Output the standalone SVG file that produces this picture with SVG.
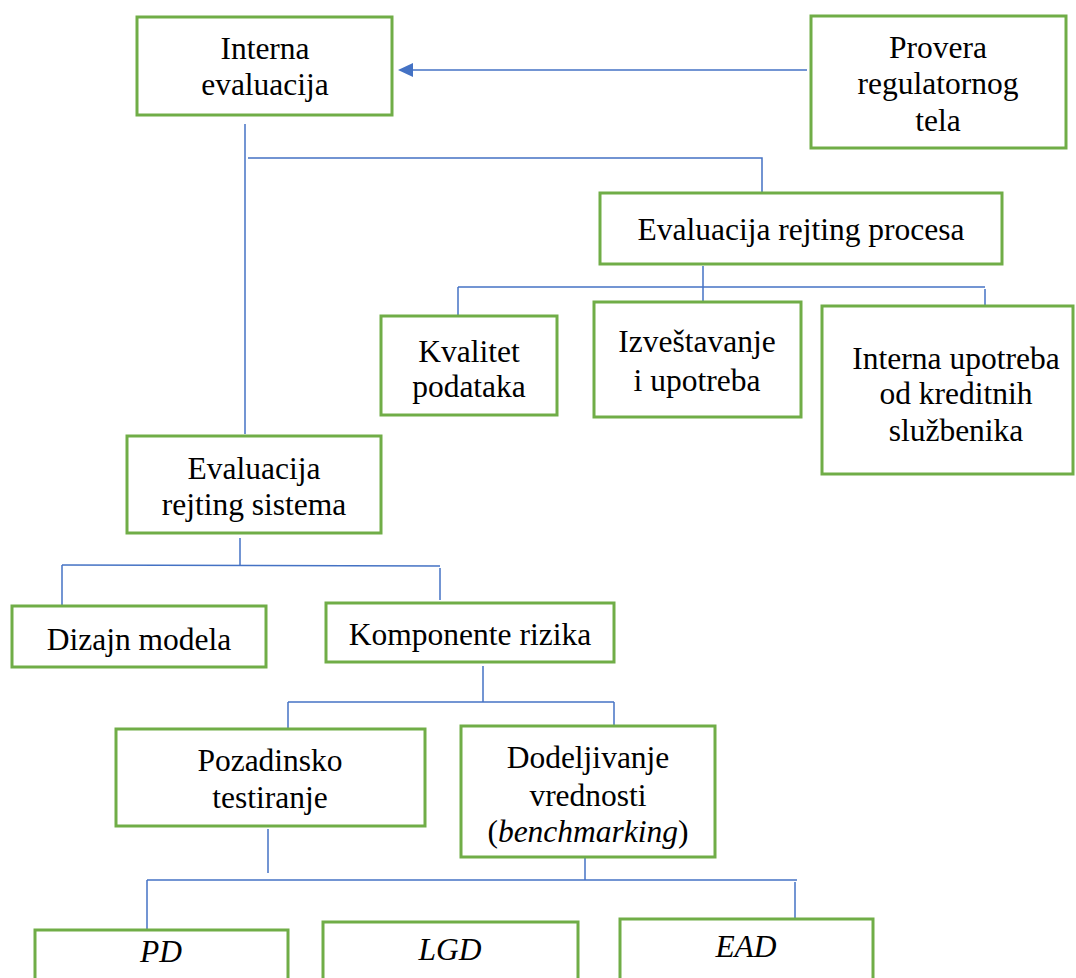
<svg xmlns="http://www.w3.org/2000/svg" width="1076" height="978" viewBox="0 0 1076 978">
<style>
.box{fill:#fff;stroke:#70AD47;stroke-width:3}
.t{font-family:'Liberation Serif','Tinos','DejaVu Serif',serif;font-size:31.5px;fill:#000;text-anchor:middle}
.i{font-style:italic}
.c{fill:none;stroke:#4472C4;stroke-width:1.5}
</style>
<defs>
<marker id="ah" viewBox="0 0 10 10" refX="0" refY="5" markerWidth="15" markerHeight="14" markerUnits="userSpaceOnUse" orient="auto-start-reverse" preserveAspectRatio="none">
<path d="M0,0 L10,5 L0,10 z" fill="#4472C4"/>
</marker>
</defs>
<rect width="1076" height="978" fill="#fff"/>
<g id="connectors">
<line class="c" x1="807" y1="70" x2="413" y2="70" marker-end="url(#ah)"/>
<line class="c" x1="245" y1="124" x2="245" y2="434"/>
<polyline class="c" points="248,158 762,158 762,193"/>
<line class="c" x1="703" y1="266" x2="703" y2="302"/>
<line class="c" x1="458" y1="287" x2="985" y2="287"/>
<line class="c" x1="458" y1="287" x2="458" y2="316"/>
<line class="c" x1="985" y1="289" x2="985" y2="306"/>
<line class="c" x1="240" y1="538" x2="240" y2="565"/>
<line class="c" x1="62" y1="565" x2="440" y2="566"/>
<line class="c" x1="62" y1="565" x2="62" y2="606"/>
<line class="c" x1="440" y1="568" x2="440" y2="600"/>
<line class="c" x1="483" y1="666" x2="483" y2="702"/>
<line class="c" x1="288" y1="702" x2="614" y2="702"/>
<line class="c" x1="288" y1="702" x2="288" y2="729"/>
<line class="c" x1="614" y1="702" x2="614" y2="726"/>
<line class="c" x1="268" y1="829" x2="268" y2="873"/>
<line class="c" x1="585" y1="858" x2="585" y2="880"/>
<line class="c" x1="147" y1="880" x2="797" y2="880"/>
<line class="c" x1="147" y1="880" x2="147" y2="930"/>
<line class="c" x1="795" y1="882" x2="795" y2="918"/>
</g>
<g id="n-interna-evaluacija">
<rect class="box" x="137" y="17" width="255" height="98"/>
<text class="t" x="265" y="59">Interna</text>
<text class="t" x="265" y="95">evaluacija</text>
</g>
<g id="n-provera">
<rect class="box" x="811" y="16" width="255" height="132"/>
<text class="t" x="938" y="58">Provera</text>
<text class="t" x="938" y="94">regulatornog</text>
<text class="t" x="938" y="131">tela</text>
</g>
<g id="n-eval-procesa">
<rect class="box" x="600" y="193" width="402" height="71"/>
<text class="t" x="801" y="240">Evaluacija rejting procesa</text>
</g>
<g id="n-kvalitet">
<rect class="box" x="381" y="316" width="176" height="99"/>
<text class="t" x="469" y="362">Kvalitet</text>
<text class="t" x="469" y="397">podataka</text>
</g>
<g id="n-izvestavanje">
<rect class="box" x="594" y="302" width="207" height="115"/>
<text class="t" x="697" y="352">Izveštavanje</text>
<text class="t" x="697" y="391">i upotreba</text>
</g>
<g id="n-interna-upotreba">
<rect class="box" x="822" y="306" width="251" height="168"/>
<text class="t" x="956" y="369">Interna upotreba</text>
<text class="t" x="956" y="404">od kreditnih</text>
<text class="t" x="956" y="441">službenika</text>
</g>
<g id="n-eval-sistema">
<rect class="box" x="127" y="436" width="254" height="97"/>
<text class="t" x="254" y="479">Evaluacija</text>
<text class="t" x="254" y="515">rejting sistema</text>
</g>
<g id="n-dizajn">
<rect class="box" x="12" y="606" width="254" height="61"/>
<text class="t" x="139" y="650">Dizajn modela</text>
</g>
<g id="n-komponente">
<rect class="box" x="326" y="603" width="288" height="59"/>
<text class="t" x="470" y="645">Komponente rizika</text>
</g>
<g id="n-pozadinsko">
<rect class="box" x="116" y="729" width="309" height="97"/>
<text class="t" x="270" y="771">Pozadinsko</text>
<text class="t" x="270" y="808">testiranje</text>
</g>
<g id="n-dodeljivanje">
<rect class="box" x="461" y="726" width="254" height="131"/>
<text class="t" x="588" y="768">Dodeljivanje</text>
<text class="t" x="588" y="806">vrednosti</text>
<text class="t" x="588" y="842">(<tspan class="i">benchmarking</tspan>)</text>
</g>
<g id="n-pd">
<rect class="box" x="35" y="930" width="253" height="60"/>
<text class="t i" x="161" y="962">PD</text>
</g>
<g id="n-lgd">
<rect class="box" x="323" y="922" width="255" height="68"/>
<text class="t i" x="450" y="960">LGD</text>
</g>
<g id="n-ead">
<rect class="box" x="620" y="919" width="253" height="71"/>
<text class="t i" x="746" y="957">EAD</text>
</g>
</svg>
